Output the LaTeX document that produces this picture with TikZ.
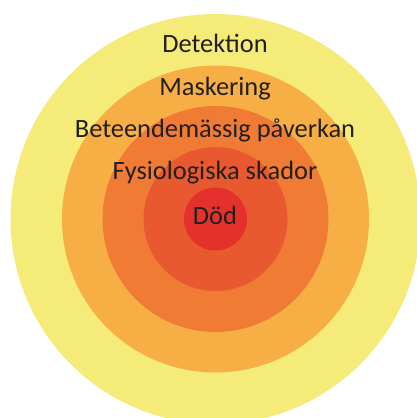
\documentclass[tikz,border=0pt]{standalone}
\usepackage{fontspec}
\setmainfont{Carlito}
\definecolor{ringA}{HTML}{F5EB78}
\definecolor{ringB}{HTML}{F7AE45}
\definecolor{ringC}{HTML}{EF7B35}
\definecolor{ringD}{HTML}{E9592F}
\definecolor{ringE}{HTML}{E4312B}
\definecolor{txt}{HTML}{231F20}
\begin{document}
\begin{tikzpicture}[x=1bp,y=1bp,
  ring/.style={draw=none},
  lbl/.style={anchor=base,inner sep=0pt,text=txt,font=\fontsize{26.4bp}{29bp}\selectfont}]
\useasboundingbox (0,0) rectangle (417,418);
\clip (0,0) rectangle (417,418);
\fill[white] (0,0) rectangle (417,418);
\coordinate (c) at (215.5,199);
\fill[ring,ringA] (c) circle[radius=205];
\fill[ring,ringB] (c) circle[radius=153.5];
\fill[ring,ringC] (c) circle[radius=113];
\fill[ring,ringD] (c) circle[radius=72];
\fill[ring,ringE] (c) circle[radius=31.5];
\node[lbl] (det) at (215,418-52.3) {Detektion};
\node[lbl] (mask) at (215,418-95) {Maskering};
\node[lbl] (bet) at (215,418-137.7) {Beteendemässig påverkan};
\node[lbl] (fys) at (215,418-179.5) {Fysiologiska skador};
\node[lbl] (dod) at (215,418-224) {Död};
\end{tikzpicture}
\end{document}
